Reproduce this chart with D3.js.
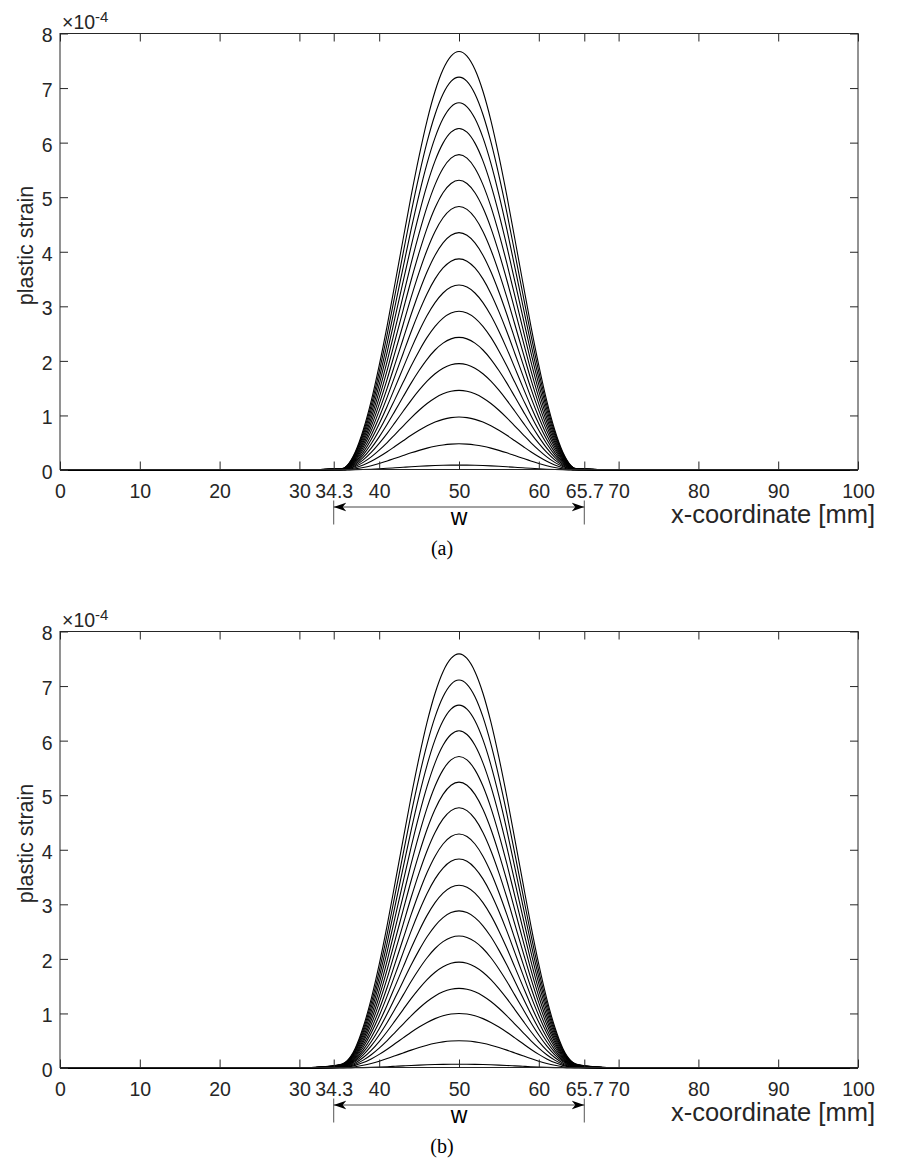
<!DOCTYPE html>
<html>
<head>
<meta charset="utf-8">
<script src="https://cdn.jsdelivr.net/npm/d3@7"></script>
<style>
  body { margin: 0; background: #fff; }
  svg { display: block; }
  .tick text { font-family: 'Liberation Sans', Arial, sans-serif; font-size: 19.5px; fill: #262626; }
  .tick line { stroke: #262626; }
</style>
</head>
<body>
<div id="chart"></div>
<script>
// tick labels
const xTicks = [0, 10, 20, 30, 34.3, 40, 50, 60, 65.7, 70, 80, 90, 100];
const yTicks = [0, 1, 2, 3, 4, 5, 6, 7, 8];

// width of the plastic zone (the "w" arrow)
const wBounds = [34.3, 65.7];

// peak of every curve, in units of 1e-4
const peaksA = [0.09, 0.48, 0.97, 1.46, 1.95, 2.43, 2.91, 3.39, 3.87, 4.35, 4.83, 5.31, 5.78, 6.26, 6.73, 7.20, 7.67];
const peaksB = [0.07, 0.50, 1.00, 1.46, 1.94, 2.42, 2.88, 3.35, 3.83, 4.29, 4.77, 5.24, 5.71, 6.18, 6.65, 7.11, 7.59];

// shape of the curves (fraction of peak) at these x positions [mm]
const profileX = [30, 31, 32, 33, 34, 35, 35.5, 36, 36.5, 37, 38, 39, 40, 41, 42, 43, 44, 45, 46, 47, 48, 49, 50,
                  51, 52, 53, 54, 55, 56, 57, 58, 59, 60, 61, 62, 63, 63.5, 64, 64.5, 65, 66, 67, 68, 69, 70];
const profileA = [0, 0, 0.0005, 0.0015, 0.0025, 0.003, 0.004, 0.011, 0.0245, 0.043, 0.0955, 0.165, 0.25, 0.345, 0.448, 0.552, 0.655, 0.75, 0.835, 0.905, 0.957, 0.989, 1,
                  0.989, 0.957, 0.905, 0.835, 0.75, 0.655, 0.552, 0.448, 0.345, 0.25, 0.165, 0.0955, 0.043, 0.0245, 0.011, 0.004, 0.003, 0.0025, 0.0015, 0.0005, 0, 0];
const profileB = [0, 0.0005, 0.0015, 0.003, 0.005, 0.008, 0.011, 0.018, 0.03, 0.048, 0.099, 0.167, 0.25, 0.345, 0.448, 0.552, 0.655, 0.75, 0.835, 0.905, 0.957, 0.989, 1,
                  0.989, 0.957, 0.905, 0.835, 0.75, 0.655, 0.552, 0.448, 0.345, 0.25, 0.167, 0.099, 0.048, 0.03, 0.018, 0.011, 0.008, 0.005, 0.003, 0.0015, 0.0005, 0];

const width = 908, height = 1158;
const plotLeft = 60, plotRight = 858, plotHeight = 436;

let svg = d3.select('#chart')
  .append('svg')
    .attr('width', width)
    .attr('height', height);

// arrow head for the w dimension line
svg.append('defs')
  .append('marker')
    .attr('id', 'arrow')
    .attr('markerUnits', 'userSpaceOnUse')
    .attr('markerWidth', 14)
    .attr('markerHeight', 10)
    .attr('refX', 12.5)
    .attr('refY', 4.75)
    .attr('orient', 'auto-start-reverse')
  .append('path')
    .attr('d', 'M0,0.5 L12.5,4.75 L0,9 L3.5,4.75 Z')
    .attr('fill', '#000');

let x = d3.scaleLinear().domain([0, 100]).range([plotLeft, plotRight]);

drawPanel(33.5, peaksA, profileA, '(a)');
drawPanel(631.5, peaksB, profileB, '(b)');

function drawPanel(top, peaks, profile, caption) {
  let bottom = top + plotHeight;
  // zero sits on a whole pixel so the piled-up curves give a 2px base line
  let y = d3.scaleLinear().domain([0, 8]).range([bottom + 0.5, top]);

  let g = svg.append('g');

  // curves
  let line = d3.line()
    .x(function(d) { return x(d[0]) })
    .y(function(d) { return y(d[1]) })
    .curve(d3.curveMonotoneX);

  let curves = peaks.map(function(p) {
    let pts = [[0, 0]];
    profileX.forEach(function(px, i) { pts.push([px, p * profile[i]]) });
    pts.push([100, 0]);
    return pts;
  });

  g.selectAll('.curve')
    .data(curves)
    .enter()
    .append('path')
      .attr('class', 'curve')
      .attr('d', line)
      .attr('fill', 'none')
      .attr('stroke', '#000')
      .attr('stroke-width', 1.1);

  // axes, ticks pointing inwards
  g.append('g')
    .attr('transform', `translate(0,${bottom})`)
    .call(d3.axisBottom(x).tickValues(xTicks).tickSizeInner(-8).tickSizeOuter(0).tickPadding(14.5)
      .tickFormat(function(d) { return d }))
    .call(function(a) { a.select('.domain').remove() });

  g.append('g')
    .attr('transform', `translate(0,${top})`)
    .call(d3.axisTop(x).tickValues(xTicks).tickSizeInner(-8).tickSizeOuter(0).tickFormat(''))
    .call(function(a) { a.select('.domain').remove() });

  g.append('g')
    .attr('transform', `translate(${plotLeft},0)`)
    .call(d3.axisLeft(y).tickValues(yTicks).tickSizeInner(-8).tickSizeOuter(0).tickPadding(7.5))
    .call(function(a) {
      a.select('.domain').remove();
      a.selectAll('.tick text').attr('dy', '0.43em');
    });

  g.append('g')
    .attr('transform', `translate(${plotRight},0)`)
    .call(d3.axisRight(y).tickValues(yTicks).tickSizeInner(-8).tickSizeOuter(0).tickFormat(''))
    .call(function(a) { a.select('.domain').remove() });

  // box
  g.append('rect')
    .attr('x', plotLeft)
    .attr('y', top)
    .attr('width', plotRight - plotLeft)
    .attr('height', plotHeight)
    .attr('fill', 'none')
    .attr('stroke', '#262626')
    .attr('stroke-width', 1);

  // exponent label
  let expo = g.append('text')
    .attr('x', plotLeft + 2)
    .attr('y', top - 5)
    .style('font-family', "'Liberation Sans', Arial, sans-serif")
    .style('font-size', '19.5px')
    .style('fill', '#262626');
  expo.append('tspan').text('\u00d710');
  expo.append('tspan').attr('dy', -7).style('font-size', '15px').text('-4');

  // axis titles
  g.append('text')
    .attr('transform', `translate(33,${top + 212}) rotate(-90)`)
    .style('text-anchor', 'middle')
    .style('font-family', "'Liberation Sans', Arial, sans-serif")
    .style('font-size', '21.5px')
    .style('fill', '#262626')
    .text('plastic strain');

  g.append('text')
    .attr('x', 875)
    .attr('y', bottom + 53.5)
    .style('text-anchor', 'end')
    .style('font-family', "'Liberation Sans', Arial, sans-serif")
    .style('font-size', '25.5px')
    .style('fill', '#262626')
    .text('x-coordinate [mm]');

  // w dimension
  g.selectAll('.wline')
    .data(wBounds)
    .enter()
    .append('line')
      .attr('class', 'wline')
      .attr('x1', function(d) { return x(d) })
      .attr('x2', function(d) { return x(d) })
      .attr('y1', bottom + 31)
      .attr('y2', bottom + 55)
      .attr('stroke', '#555')
      .attr('stroke-width', 1);

  g.append('line')
    .attr('x1', x(wBounds[0]))
    .attr('x2', x(wBounds[1]))
    .attr('y1', bottom + 37.5)
    .attr('y2', bottom + 37.5)
    .attr('stroke', '#444')
    .attr('stroke-width', 1)
    .attr('marker-start', 'url(#arrow)')
    .attr('marker-end', 'url(#arrow)');

  g.append('text')
    .attr('x', x(d3.mean(wBounds)))
    .attr('y', bottom + 55)
    .style('text-anchor', 'middle')
    .style('font-family', "'Liberation Sans', Arial, sans-serif")
    .style('font-size', '23px')
    .style('fill', '#000')
    .text('w');

  // caption
  g.append('text')
    .attr('x', 442)
    .attr('y', bottom + 85.5)
    .style('text-anchor', 'middle')
    .style('font-family', "'Liberation Serif', 'Times New Roman', serif")
    .style('font-size', '20px')
    .style('fill', '#000')
    .text(caption);
}
</script>
</body>
</html>
